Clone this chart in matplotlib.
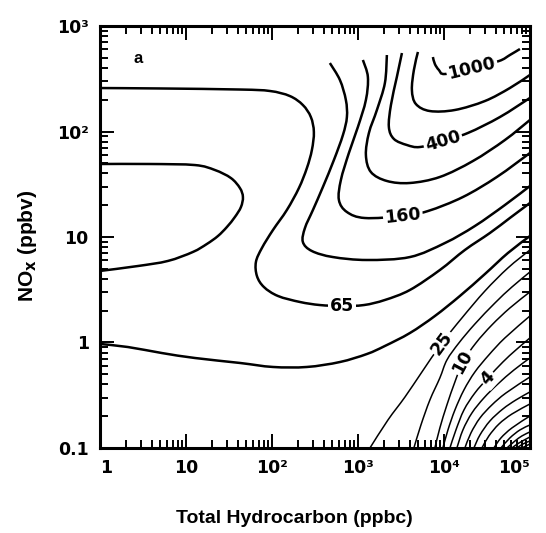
import numpy as np
import matplotlib
matplotlib.use("Agg")
from matplotlib import pyplot as plt
from matplotlib.path import Path
from matplotlib.patches import PathPatch
from matplotlib.ticker import LogLocator, NullFormatter, FixedLocator, FixedFormatter

plt.rcParams['font.family'] = ['Liberation Sans', 'DejaVu Sans']

# isopleths, as log10(HC, ppbc) / log10(NOx, ppbv)
c1000_x = [3.872, 3.895, 3.942, 4.012, 4.326, 4.640, 4.767, 4.884]
c1000_y = [2.706, 2.640, 2.583, 2.545, 2.602, 2.668, 2.725, 2.782]

c630_x = [3.698, 3.651, 3.628, 3.674, 3.837, 4.128, 4.477, 4.767, 5.000]
c630_y = [2.754, 2.583, 2.393, 2.261, 2.194, 2.204, 2.289, 2.412, 2.536]

c400_x = [3.512, 3.453, 3.384, 3.360, 3.419, 3.570, 3.721, 3.988, 4.279, 4.651, 5.000]
c400_y = [2.744, 2.517, 2.251, 2.043, 1.929, 1.872, 1.853, 1.910, 1.986, 2.137, 2.318]

c250_x = [3.337, 3.314, 3.221, 3.128, 3.093, 3.151, 3.337, 3.605, 3.953, 4.337, 4.709, 5.000]
c250_y = [2.725, 2.460, 2.204, 1.986, 1.777, 1.616, 1.531, 1.512, 1.569, 1.720, 1.919, 2.109]

c160_x = [3.058, 3.116, 3.093, 3.000, 2.895, 2.802, 2.779, 2.872, 3.081, 3.523, 3.814, 4.221, 4.616, 5.000]
c160_y = [2.678, 2.517, 2.299, 2.043, 1.796, 1.540, 1.351, 1.237, 1.180, 1.199, 1.246, 1.379, 1.569, 1.796]

c100_x = [2.674, 2.791, 2.860, 2.872, 2.826, 2.721, 2.593, 2.477, 2.384, 2.360, 2.465, 2.709,
          3.105, 3.605, 4.012, 4.360, 4.709, 5.000]
c100_y = [2.649, 2.488, 2.299, 2.137, 1.967, 1.730, 1.474, 1.256, 1.085, 0.953, 0.867, 0.810,
          0.782, 0.810, 0.943, 1.104, 1.303, 1.483]

c65_x = [0.000, 0.698, 1.628, 1.977, 2.209, 2.360, 2.453, 2.488, 2.465, 2.407, 2.314, 2.174,
         2.012, 1.884, 1.814, 1.826, 1.907, 2.070, 2.326, 2.558, 2.814, 3.070, 3.314, 3.605,
         3.953, 4.244, 4.535, 4.767, 5.000]
c65_y = [2.412, 2.408, 2.398, 2.384, 2.336, 2.251, 2.137, 1.995, 1.825, 1.654, 1.464, 1.256,
         1.066, 0.896, 0.763, 0.630, 0.526, 0.441, 0.384, 0.355, 0.346, 0.355, 0.403, 0.498,
         0.687, 0.877, 1.038, 1.180, 1.322]

bulge_x = [0.000, 0.581, 1.105, 1.337, 1.523, 1.628, 1.663, 1.640, 1.570, 1.477, 1.372, 1.244,
           1.081, 0.791, 0.442, 0.000]
bulge_y = [1.692, 1.692, 1.682, 1.635, 1.559, 1.464, 1.379, 1.284, 1.190, 1.095, 1.009, 0.934,
           0.858, 0.773, 0.725, 0.678]

low_x = [0.000, 0.326, 0.721, 1.105, 1.628, 2.012, 2.407, 2.791, 3.105, 3.314, 3.605, 3.895,
         4.186, 4.477, 4.744, 5.000]
low_y = [-0.014, -0.043, -0.100, -0.147, -0.194, -0.232, -0.232, -0.185, -0.109, -0.033, 0.090,
         0.251, 0.441, 0.649, 0.848, 1.009]

c25_x = [3.140, 3.349, 3.547, 3.744, 3.977, 4.209, 4.477, 4.744, 5.000]
c25_y = [-1.000, -0.735, -0.517, -0.280, -0.005, 0.232, 0.488, 0.706, 0.877]

c16_x = [3.651, 3.733, 3.837, 3.953, 4.035, 4.174, 4.360, 4.593, 4.791, 5.000]
c16_y = [-1.000, -0.782, -0.545, -0.336, -0.166, -0.005, 0.175, 0.374, 0.526, 0.668]

c10_x = [3.895, 3.953, 4.035, 4.128, 4.221, 4.372, 4.558, 4.767, 5.000]
c10_y = [-1.000, -0.810, -0.592, -0.374, -0.185, -0.005, 0.166, 0.327, 0.479]

c6_x = [3.988, 4.047, 4.128, 4.233, 4.360, 4.523, 4.709, 5.000]
c6_y = [-1.000, -0.829, -0.640, -0.450, -0.280, -0.118, 0.043, 0.251]

c4_x = [4.070, 4.140, 4.233, 4.360, 4.512, 4.686, 4.837, 5.000]
c4_y = [-1.000, -0.829, -0.640, -0.479, -0.336, -0.185, -0.071, 0.043]

# unlabelled lines packed into the lower right corner
fan_x = [[4.151, 4.221, 4.326, 4.465, 4.628, 4.814, 5.000],
         [4.244, 4.314, 4.419, 4.558, 4.721, 5.000],
         [4.349, 4.419, 4.535, 4.686, 4.837, 5.000],
         [4.442, 4.523, 4.640, 4.791, 5.000],
         [4.581, 4.663, 4.791, 5.000],
         [4.663, 4.767, 4.884, 5.000],
         [4.733, 4.826, 4.907, 5.000],
         [4.791, 4.872, 5.000],
         [4.849, 4.919, 5.000],
         [4.907, 5.000]]
fan_y = [[-1.000, -0.829, -0.668, -0.526, -0.393, -0.261, -0.147],
         [-1.000, -0.858, -0.716, -0.592, -0.479, -0.327],
         [-1.000, -0.877, -0.744, -0.630, -0.545, -0.469],
         [-1.000, -0.886, -0.773, -0.678, -0.583],
         [-1.000, -0.905, -0.810, -0.697],
         [-1.000, -0.905, -0.829, -0.782],
         [-1.000, -0.934, -0.886, -0.848],
         [-1.000, -0.953, -0.896],
         [-1.000, -0.962, -0.934],
         [-1.000, -0.962]]

main_lines = [(c1000_x, c1000_y), (c630_x, c630_y), (c400_x, c400_y), (c250_x, c250_y),
              (c160_x, c160_y), (c100_x, c100_y), (c65_x, c65_y), (bulge_x, bulge_y),
              (low_x, low_y)]
thin_lines = [(c25_x, c25_y), (c16_x, c16_y), (c10_x, c10_y), (c6_x, c6_y), (c4_x, c4_y)]
thin_lines += list(zip(fan_x, fan_y))

# label text, line, index of the point the label sits on
labels = [("1000", c1000_x, c1000_y, 4), ("400", c400_x, c400_y, 7),
          ("160", c160_x, c160_y, 9), ("65", c65_x, c65_y, 20),
          ("25", c25_x, c25_y, 4), ("10", c10_x, c10_y, 4), ("4", c4_x, c4_y, 4)]

xticks = [1, 10, 1e2, 1e3, 1e4, 1e5]
xticklabels = ["1", "10", "10²", "10³", "10⁴", "10⁵"]
yticks = [0.1, 1, 10, 1e2, 1e3]
yticklabels = ["0.1", "1", "10", "10²", "10³"]


def smooth_path(lx, ly):
    # catmull-rom through the read points, drawn as bezier segments (log space)
    P = np.column_stack([lx, ly])
    n = len(P)
    verts = [P[0]]
    codes = [Path.MOVETO]
    for i in range(n - 1):
        p0 = P[i - 1] if i > 0 else P[i]
        p1, p2 = P[i], P[i + 1]
        p3 = P[i + 2] if i + 2 < n else P[i + 1]
        verts += [p1 + (p2 - p0) / 6, p2 - (p3 - p1) / 6, p2]
        codes += [Path.CURVE4] * 3
    return Path(10 ** np.array(verts), codes)


fig = plt.figure(figsize=(5.46, 5.33), dpi=100)
ax = fig.add_axes([0.183, 0.1595, 0.7875, 0.7917])
ax.set_xscale("log")
ax.set_yscale("log")
ax.set_xlim(1, 1e5)
ax.set_ylim(0.1, 1e3)

for lx, ly in main_lines:
    ax.add_patch(PathPatch(smooth_path(lx, ly), fc="none", ec="black", lw=1.8))
for lx, ly in thin_lines:
    ax.add_patch(PathPatch(smooth_path(lx, ly), fc="none", ec="black", lw=1.1))

for txt, lx, ly, i in labels:
    p0 = ax.transData.transform((10 ** lx[i - 1], 10 ** ly[i - 1]))
    p1 = ax.transData.transform((10 ** lx[i + 1], 10 ** ly[i + 1]))
    ang = np.degrees(np.arctan2(p1[1] - p0[1], p1[0] - p0[0]))
    ax.text(10 ** lx[i], 10 ** ly[i], txt, rotation=ang, rotation_mode="anchor",
            ha="center", va="center", fontsize=12.5, fontweight="bold",
            family="DejaVu Sans", zorder=4,
            bbox=dict(fc="white", ec="none", pad=1.2))

ax.text(0.088, 0.924, "a", transform=ax.transAxes, fontsize=12, fontweight="bold",
        ha="center", va="center")

ax.xaxis.set_major_locator(FixedLocator(xticks))
ax.xaxis.set_major_formatter(FixedFormatter(xticklabels))
ax.yaxis.set_major_locator(FixedLocator(yticks))
ax.yaxis.set_major_formatter(FixedFormatter(yticklabels))
ax.xaxis.set_minor_locator(LogLocator(base=10, subs=np.arange(2, 10), numticks=20))
ax.yaxis.set_minor_locator(LogLocator(base=10, subs=np.arange(2, 10), numticks=20))
ax.xaxis.set_minor_formatter(NullFormatter())
ax.yaxis.set_minor_formatter(NullFormatter())

ax.tick_params(which="both", direction="in", top=True, right=True, width=1.4)
ax.tick_params(which="major", length=10, labelsize=12.5, pad=8)
ax.tick_params(which="minor", length=6)
for lab in ax.get_xticklabels() + ax.get_yticklabels():
    lab.set_fontweight("bold")
    lab.set_family("DejaVu Sans")
xt = ax.get_xticklabels()
xt[0].set_ha("left")
xt[-1].set_ha("right")
for sp in ax.spines.values():
    sp.set_linewidth(2.2)

ax.set_xlabel("Total Hydrocarbon (ppbc)", fontsize=14, fontweight="bold")
ax.set_ylabel("NO$_\\mathbf{x}$ (ppbv)", fontsize=15, fontweight="bold")
ax.xaxis.set_label_coords(0.453, -0.146)
ax.yaxis.set_label_coords(-0.142, 0.479)

fig.savefig("out.png", dpi=100)
